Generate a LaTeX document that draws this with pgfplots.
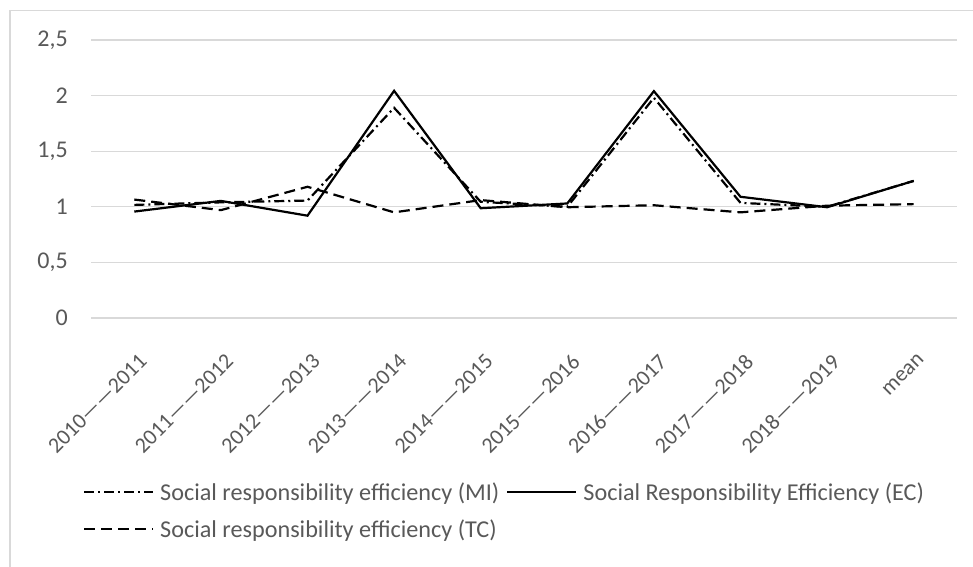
\documentclass[border=0pt]{standalone}
\usepackage{fontspec}
\setmainfont{Carlito}
\usepackage{pgfplots}
\pgfplotsset{compat=1.18}
\definecolor{txt}{HTML}{595959}
\definecolor{grd}{HTML}{D9D9D9}
\begin{document}
\begin{tikzpicture}[x=1bp,y=1bp]
\useasboundingbox (0,0) rectangle (973,567);
\fill[white] (0,0) rectangle (973,567);
\draw[grd, line width=1.3bp] (10,0) -- (10,556.3) -- (973,556.3);
\begin{axis}[
  at={(91bp,249bp)}, anchor=south west,
  width=866bp, height=278bp, scale only axis,
  xmin=-0.5, xmax=9.5, ymin=0, ymax=2.5,
  axis line style={draw=none},
  tick style={draw=none}, major tick length=0pt,
  ymajorgrids, grid style={grd, line width=1.3bp},
  ytick={0,0.5,1,1.5,2,2.5}, yticklabels={0,{0,5},1,{1,5},2,{2,5}},
  xtick={0,...,9},
  xticklabels={2010——2011,2011——2012,2012——2013,2013——2014,2014——2015,2015——2016,2016——2017,2017——2018,2018——2019,mean},
  yticklabel style={font=\fontsize{24bp}{28bp}\selectfont, text=txt, anchor=east, inner sep=0pt, xshift=-23bp},
  xticklabel style={font=\fontsize{22bp}{26bp}\selectfont, text=txt, rotate=45, anchor=north east, inner sep=0pt, xshift=-22bp, yshift=-27bp},
  legend columns=2,
  legend cell align=left,
  legend image code/.code={\draw[#1] (0bp,0.3em) -- (69bp,0.3em);},
  legend style={draw=none, fill=none, inner sep=0pt, outer sep=0pt,
    at={(axis description cs:-0.0092,-0.597)}, anchor=north west,
    /tikz/every odd column/.append style={column sep=6bp},
    /tikz/every even column/.append style={column sep=7bp},
    nodes={inner sep=0pt, text height=17bp, text depth=5bp, text=txt,
      font=\fontsize{24.2bp}{28bp}\selectfont},
    row sep=15bp},
]
\addplot[black, line width=2.2bp, dash pattern=on 10bp off 4bp on 2bp off 4bp] coordinates {
(0,1.017) (1,1.04) (2,1.056) (3,1.89) (4,1.045) (5,1.0) (6,1.98) (7,1.035) (8,1.0) (9,1.233)};
\addlegendentry{Social responsibility efficiency (MI)}
\addplot[black, line width=2.2bp] coordinates {
(0,0.957) (1,1.053) (2,0.92) (3,2.043) (4,0.987) (5,1.03) (6,2.04) (7,1.09) (8,0.996) (9,1.233)};
\addlegendentry{Social Responsibility Efficiency (EC)}
\addplot[black, line width=2.2bp, dash pattern=on 11bp off 6bp] coordinates {
(0,1.065) (1,0.97) (2,1.18) (3,0.95) (4,1.06) (5,0.996) (6,1.014) (7,0.95) (8,1.01) (9,1.024)};
\addlegendentry{Social responsibility efficiency (TC)}
\end{axis}
\end{tikzpicture}
\end{document}
